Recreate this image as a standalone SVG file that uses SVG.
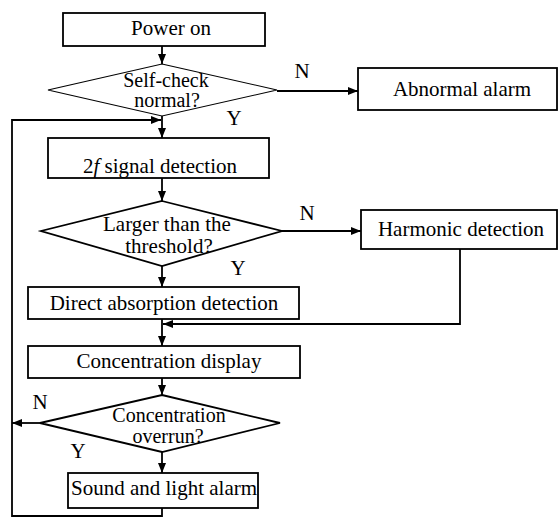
<svg xmlns="http://www.w3.org/2000/svg" width="560" height="518" viewBox="0 0 560 518">
<defs>
<style>
.box{fill:#fff;stroke:#000;stroke-width:1.8}
.dia{fill:#fff;stroke:#000;stroke-width:1.8}
.thin{stroke-width:1.1}
.t{font-family:"Liberation Serif","Times New Roman",serif;font-size:21px;fill:#000;text-anchor:middle}
.tsm{font-family:"Liberation Serif","Times New Roman",serif;font-size:20px;fill:#000;text-anchor:middle}
.lbl{font-family:"Liberation Serif","Times New Roman",serif;font-size:21px;fill:#000;text-anchor:middle}
.c{fill:none;stroke:#000;stroke-width:1.8}
</style>
<marker id="ah" viewBox="0 0 10 8" refX="10" refY="4" markerWidth="10" markerHeight="8" markerUnits="userSpaceOnUse" orient="auto">
<path d="M0,0 L10,4 L0,8 Z" fill="#000"/>
</marker>
</defs>
<rect width="560" height="518" fill="#fff"/>
<g id="connectors">
<line class="c" x1="162" y1="46" x2="162" y2="64" marker-end="url(#ah)"/>
<line class="c" x1="277" y1="91" x2="358" y2="91" marker-end="url(#ah)"/>
<line class="c" x1="162" y1="116" x2="162" y2="138" marker-end="url(#ah)"/>
<line class="c" x1="162" y1="178" x2="162" y2="201" marker-end="url(#ah)"/>
<line class="c" x1="282" y1="231" x2="361" y2="231" marker-end="url(#ah)"/>
<line class="c" x1="162" y1="266" x2="162" y2="287" marker-end="url(#ah)"/>
<polyline class="c" points="460,249 460,324 163,324" marker-end="url(#ah)"/>
<line class="c" x1="162" y1="319" x2="162" y2="346" marker-end="url(#ah)"/>
<line class="c" x1="162" y1="378" x2="162" y2="395" marker-end="url(#ah)"/>
<line class="c" x1="40" y1="423" x2="12" y2="423" marker-end="url(#ah)"/>
<line class="c" x1="162" y1="452" x2="162" y2="473" marker-end="url(#ah)"/>
<polyline class="c" points="162,508 162,516 12,516 12,120 161,120" marker-end="url(#ah)"/>
<text class="lbl" x="302" y="78">N</text>
<text class="lbl" x="234" y="125">Y</text>
<text class="lbl" x="307" y="220">N</text>
<text class="lbl" x="238" y="275">Y</text>
<text class="lbl" x="40" y="409">N</text>
<text class="lbl" x="78" y="458">Y</text>
</g>
<g id="power-on">
<rect class="box" x="63" y="13" width="202" height="33"/>
<text class="t" x="171" y="35">Power on</text>
</g>
<g id="self-check">
<polygon class="dia thin" points="162,64 277,90 162,116 48,90"/>
<text class="tsm" x="166" y="87">Self-check</text>
<text class="tsm" x="167" y="107">normal?</text>
</g>
<g id="abnormal-alarm">
<rect class="box" x="358" y="68" width="199" height="42"/>
<text class="t" x="462" y="96">Abnormal alarm</text>
</g>
<g id="signal-detection">
<rect class="box" x="48" y="138" width="221" height="40"/>
<text class="t" x="160" y="173">2<tspan font-style="italic">f</tspan> signal detection</text>
</g>
<g id="threshold">
<polygon class="dia" points="162,201 282,231 162,266 41,231"/>
<text class="t" x="167" y="231">Larger than the</text>
<text class="t" x="169" y="253">threshold?</text>
</g>
<g id="harmonic-detection">
<rect class="box" x="361" y="210" width="196" height="39"/>
<text class="t" x="461" y="236">Harmonic detection</text>
</g>
<g id="direct-absorption">
<rect class="box" x="28" y="287" width="271" height="32"/>
<text class="t" x="164" y="310">Direct absorption detection</text>
</g>
<g id="concentration-display">
<rect class="box" x="28" y="346" width="272" height="32"/>
<text class="t" x="169" y="368">Concentration display</text>
</g>
<g id="concentration-overrun">
<polygon class="dia" points="162,395 280,423 162,452 40,423"/>
<text class="tsm" x="169" y="422">Concentration</text>
<text class="tsm" x="168" y="443">overrun?</text>
</g>
<g id="sound-light-alarm">
<rect class="box" x="68" y="473" width="190" height="35"/>
<text class="t" x="164" y="495">Sound and light alarm</text>
</g>
</svg>
